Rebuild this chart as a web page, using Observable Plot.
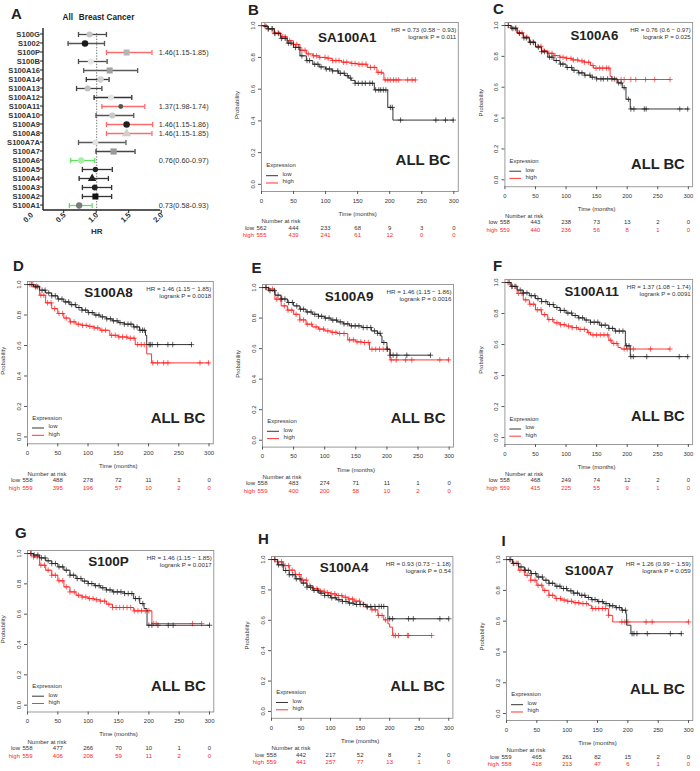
<!DOCTYPE html>
<html><head><meta charset="utf-8">
<script src="https://cdn.jsdelivr.net/npm/d3@7"></script>
<script src="https://cdn.jsdelivr.net/npm/@observablehq/plot@0.6"></script>
<style>
body{margin:0;background:#fff;}
#fig{position:relative;width:700px;height:771px;overflow:hidden;background:#fff;}
.panel{position:absolute;}
#letters{position:absolute;left:0;top:0;pointer-events:none;}
</style></head><body><div id="fig"></div>
<script>
const FONT = '"Liberation Sans", Arial, Helvetica, sans-serif';
const LOW = "#1f1f1f", HIGH = "#ff1f1f";

// ---------- Panel A: forest plot data ----------
const genes = ["S100G","S1002","S100P","S100B","S100A16","S100A14","S100A13","S100A12","S100A11","S100A10","S100A9","S100A8","S100A7A","S100A7","S100A6","S100A5","S100A4","S100A3","S100A2","S100A1"];
const hrEst = [0.89,0.82,1.46,0.91,1.20,1.06,0.86,1.22,1.37,1.24,1.46,1.46,0.98,1.26,0.76,0.98,0.93,0.97,0.98,0.73];
const hrLow = [0.72,0.56,1.15,0.72,0.80,0.84,0.69,0.96,1.08,0.99,1.15,1.15,0.72,0.99,0.60,0.78,0.73,0.78,0.78,0.58];
const hrHigh = [1.15,1.12,1.85,1.16,1.63,1.19,1.08,1.54,1.74,1.57,1.86,1.85,1.45,1.59,0.97,1.24,1.18,1.23,1.23,0.93];
const annotGenes = ["S100P","S100A11","S100A9","S100A8","S100A6","S100A1"];
const annotText = ["1.46(1.15-1.85)","1.37(1.98-1.74)","1.46(1.15-1.86)","1.46(1.15-1.85)","0.76(0.60-0.97)","0.73(0.58-0.93)"];
const hrTicks = [0, 0.5, 1.0, 1.5, 2.0];

// ---------- KM shared ticks ----------
const timeTicks = [0,50,100,150,200,250,300];
const probTicks = [0,0.2,0.4,0.6,0.8,1.0];

// ---------- B: SA100A1 ----------
const B_hr = ["HR = 0.73 (0.58 \u2212 0.93)", "logrank P = 0.011"];
const B_low = [[0,1],[5,0.995],[10,0.98],[20,0.95],[30,0.92],[40,0.89],[50,0.863],[60,0.81],[70,0.78],[80,0.757],[90,0.74],[100,0.727],[110,0.715],[120,0.70],[130,0.685],[136,0.67],[140,0.655],[146,0.637],[176,0.595],[197,0.485],[205,0.405],[300,0.405]];
const B_high = [[0,1],[10,0.98],[20,0.955],[30,0.93],[40,0.905],[50,0.882],[60,0.845],[70,0.822],[80,0.81],[90,0.80],[100,0.795],[110,0.78],[125,0.77],[140,0.762],[150,0.757],[165,0.737],[180,0.706],[188,0.70],[191,0.658],[240,0.658]];
const B_lowCens = [7,11,17,21,27,31,37,42,46,53,58,63,71,75,83,88,93,101,106,111,119,123,129,134,139,146,151,157,162,169,173,178,183,186,190,194,201,204,217,272,287,299];
const B_highCens = [5,10,16,20,26,33,37,44,50,55,63,68,73,81,86,91,99,104,111,116,121,128,133,141,146,152,157,163,170,176,182,187,193,197,201,206,210,214,228,235,240];
const B_riskLow = [562,444,233,68,9,3,0];
const B_riskHigh = [555,439,241,61,12,0,0];

// ---------- C: S100A6 ----------
const C_hr = ["HR = 0.76 (0.6 \u2212 0.97)", "logrank P = 0.025"];
const C_low = [[0,1],[10,0.98],[20,0.95],[30,0.92],[40,0.89],[50,0.86],[60,0.83],[70,0.795],[80,0.773],[90,0.75],[100,0.728],[110,0.71],[120,0.693],[130,0.678],[140,0.665],[150,0.654],[184,0.628],[192,0.597],[198,0.522],[205,0.459],[300,0.459]];
const C_high = [[0,1],[10,0.985],[20,0.953],[30,0.925],[40,0.894],[50,0.865],[60,0.837],[70,0.82],[80,0.805],[90,0.794],[100,0.787],[110,0.777],[120,0.77],[130,0.762],[140,0.741],[145,0.724],[172,0.671],[175,0.65],[270,0.65]];
const C_lowCens = [6,13,17,24,31,35,42,47,55,60,65,73,77,84,91,95,102,109,113,121,126,131,139,143,150,157,161,168,175,179,186,190,195,202,206,211,228,231,286,299];
const C_highCens = [5,11,18,23,28,36,41,46,54,59,64,72,77,82,90,95,101,108,112,119,126,130,137,144,149,155,160,166,170,182,190,195,206,214,230,245,270];
const C_riskLow = [558,443,238,73,13,2,0];
const C_riskHigh = [559,440,236,56,8,1,0];

// ---------- D: S100A8 ----------
const D_hr = ["HR = 1.46 (1.15 \u2212 1.85)", "logrank P = 0.0018"];
const D_low = [[0,1],[10,0.985],[20,0.963],[30,0.945],[40,0.926],[50,0.905],[60,0.886],[70,0.868],[80,0.849],[90,0.832],[100,0.816],[110,0.80],[120,0.788],[130,0.775],[140,0.762],[150,0.75],[160,0.74],[175,0.722],[185,0.70],[195,0.667],[197,0.606],[271,0.606]];
const D_high = [[0,1],[10,0.99],[20,0.93],[30,0.88],[40,0.842],[50,0.81],[60,0.78],[70,0.755],[80,0.74],[90,0.732],[100,0.726],[110,0.715],[120,0.70],[136,0.667],[150,0.656],[165,0.648],[178,0.606],[197,0.545],[205,0.486],[300,0.486]];
const D_lowCens = [7,13,17,24,29,35,40,46,51,57,63,68,73,79,85,90,96,101,107,113,118,124,131,137,142,148,153,160,166,171,176,181,186,190,193,201,203,206,215,232,240,271];
const D_highCens = [4,9,15,22,27,33,39,45,52,58,64,71,77,84,91,97,103,110,116,123,129,139,145,151,157,164,170,176,182,188,193,207,215,225,232,285,299];
const D_riskLow = [558,488,278,72,11,1,0];
const D_riskHigh = [559,395,196,57,10,2,0];

// ---------- E: S100A9 ----------
const E_hr = ["HR = 1.46 (1.15 \u2212 1.86)", "logrank P = 0.0016"];
const E_low = [[0,1],[10,0.98],[20,0.95],[30,0.925],[40,0.902],[50,0.88],[60,0.858],[70,0.84],[80,0.825],[90,0.812],[100,0.80],[110,0.787],[120,0.775],[130,0.762],[140,0.749],[160,0.738],[175,0.716],[185,0.70],[190,0.683],[192,0.64],[200,0.596],[205,0.557],[270,0.557]];
const E_high = [[0,1],[10,0.99],[20,0.924],[30,0.88],[40,0.852],[50,0.825],[60,0.788],[70,0.76],[80,0.742],[90,0.728],[100,0.716],[110,0.707],[120,0.699],[137,0.657],[150,0.644],[160,0.64],[172,0.596],[205,0.526],[300,0.526]];
const E_lowCens = [6,12,19,25,31,36,42,48,55,61,66,72,78,84,90,95,101,107,113,119,125,131,137,143,149,155,162,168,174,180,185,189,195,201,205,210,216,232,270];
const E_highCens = [5,10,16,23,29,35,41,47,54,60,66,72,79,86,92,98,105,112,118,124,131,140,146,152,158,164,170,176,182,188,194,200,207,215,230,240,285,299];
const E_riskLow = [558,483,274,71,11,1,0];
const E_riskHigh = [559,400,200,58,10,2,0];

// ---------- F: S100A11 ----------
const F_hr = ["HR = 1.37 (1.08 \u2212 1.74)", "logrank P = 0.0091"];
const F_low = [[0,1],[10,0.975],[20,0.951],[30,0.933],[40,0.915],[50,0.896],[60,0.877],[70,0.858],[80,0.839],[90,0.82],[100,0.803],[110,0.787],[120,0.772],[130,0.758],[140,0.744],[155,0.725],[170,0.704],[180,0.687],[197,0.592],[205,0.522],[300,0.522]];
const F_high = [[0,1],[10,0.975],[20,0.93],[30,0.888],[40,0.86],[50,0.824],[60,0.793],[70,0.761],[80,0.74],[90,0.728],[100,0.719],[110,0.709],[120,0.698],[135,0.677],[140,0.662],[170,0.628],[175,0.607],[185,0.581],[190,0.571],[270,0.571]];
const F_lowCens = [7,12,18,25,30,36,43,49,54,60,67,73,79,85,91,97,103,109,115,121,127,133,140,146,152,158,164,170,176,181,187,193,199,203,206,210,232,285,299];
const F_highCens = [5,11,16,22,28,34,41,47,53,59,65,72,78,85,91,97,104,110,117,123,130,137,144,150,156,162,168,173,178,183,195,200,210,238,270];
const F_riskLow = [558,468,249,74,12,2,0];
const F_riskHigh = [559,415,225,55,9,1,0];

// ---------- G: S100P ----------
const G_hr = ["HR = 1.46 (1.15 \u2212 1.85)", "logrank P = 0.0017"];
const G_low = [[0,1],[10,0.99],[20,0.971],[30,0.952],[40,0.934],[50,0.912],[60,0.89],[70,0.857],[80,0.835],[90,0.818],[100,0.802],[110,0.788],[120,0.774],[130,0.76],[140,0.747],[160,0.736],[175,0.703],[185,0.67],[192,0.637],[197,0.527],[300,0.527]];
const G_high = [[0,1],[10,0.978],[20,0.923],[30,0.89],[40,0.857],[50,0.82],[60,0.78],[70,0.747],[80,0.725],[90,0.713],[100,0.703],[110,0.695],[120,0.686],[130,0.666],[140,0.644],[175,0.622],[205,0.538],[287,0.538]];
const G_lowCens = [6,11,17,23,29,34,40,46,52,58,64,70,76,82,88,94,100,106,112,118,124,130,136,142,148,154,160,166,172,178,184,190,200,205,215,232,240,300];
const G_highCens = [5,10,16,22,28,34,40,46,52,58,64,70,77,84,90,96,102,108,114,120,127,134,140,146,152,158,164,170,176,182,188,194,200,208,212,272,287];
const G_riskLow = [558,477,266,70,10,1,0];
const G_riskHigh = [559,406,208,59,11,2,0];

// ---------- H: S100A4 ----------
const H_hr = ["HR = 0.93 (0.73 \u2212 1.18)", "logrank P = 0.54"];
const H_low = [[0,1],[10,0.965],[20,0.928],[30,0.9],[40,0.873],[50,0.845],[60,0.818],[70,0.797],[80,0.779],[90,0.763],[100,0.748],[110,0.735],[120,0.724],[130,0.713],[140,0.704],[160,0.691],[197,0.61],[300,0.61]];
const H_high = [[0,1],[10,0.985],[20,0.96],[30,0.93],[40,0.901],[50,0.865],[60,0.829],[70,0.808],[80,0.792],[90,0.782],[100,0.774],[110,0.763],[120,0.752],[130,0.74],[140,0.726],[150,0.705],[160,0.686],[170,0.669],[180,0.632],[190,0.603],[197,0.577],[200,0.555],[205,0.50],[271,0.50]];
const H_lowCens = [6,12,18,24,30,36,42,48,54,60,66,72,78,84,90,96,102,108,114,120,126,132,138,144,150,156,162,168,175,182,186,190,200,205,232,240,285,300];
const H_highCens = [5,11,17,23,29,35,41,47,53,59,65,71,77,83,89,95,101,107,113,119,125,131,137,143,149,155,162,170,176,181,187,193,207,210,215,230,232,271];
const H_riskLow = [558,442,217,52,8,2,0];
const H_riskHigh = [559,441,257,77,13,1,0];

// ---------- I: S100A7 ----------
const I_hr = ["HR = 1.26 (0.99 \u2212 1.59)", "logrank P = 0.059"];
const I_low = [[0,1],[10,0.975],[20,0.952],[30,0.93],[40,0.909],[50,0.887],[60,0.866],[70,0.846],[80,0.827],[90,0.812],[100,0.797],[110,0.782],[120,0.768],[130,0.754],[140,0.74],[150,0.727],[160,0.714],[170,0.70],[180,0.688],[190,0.671],[197,0.645],[198,0.574],[205,0.519],[289,0.519]];
const I_high = [[0,1],[10,0.975],[20,0.931],[30,0.898],[40,0.866],[50,0.833],[60,0.80],[70,0.768],[80,0.747],[90,0.737],[100,0.729],[110,0.72],[120,0.714],[135,0.703],[140,0.682],[168,0.638],[175,0.595],[300,0.595]];
const I_lowCens = [7,12,19,24,31,36,41,48,53,59,65,70,76,83,88,94,99,106,111,117,124,129,135,141,146,152,158,164,170,175,181,186,191,196,207,210,215,232,270,288];
const I_highCens = [5,11,16,22,29,34,40,47,52,58,63,70,76,82,89,95,101,107,113,119,126,132,142,147,152,158,163,168,190,195,200,230,240,300];
const I_riskLow = [559,465,261,82,15,2,0];
const I_riskHigh = [558,418,213,47,6,1,0];

// ---------- layout (page px boxes) ----------
const panels = [
  {title:"SA100A1", box:[261,457.8,21.8,190.8], tdx:85.7, tdy:10, ady:-26, hr:B_hr, low:B_low, high:B_high, lc:B_lowCens, hc:B_highCens, rl:B_riskLow, rh:B_riskHigh},
  {title:"S100A6", box:[505,696,21.9,189.1], tdx:91, tdy:8, ady:-18, hr:C_hr, low:C_low, high:C_high, lc:C_lowCens, hc:C_highCens, rl:C_riskLow, rh:C_riskHigh},
  {title:"S100A8", box:[26.7,212.5,281.3,443.6], tdx:81, tdy:6, ady:-21, hr:D_hr, low:D_low, high:D_high, lc:D_lowCens, hc:D_highCens, rl:D_riskLow, rh:D_riskHigh},
  {title:"S100A9", box:[262.3,453.3,283.6,446.2], tdx:86.7, tdy:6.5, ady:-24, hr:E_hr, low:E_low, high:E_high, lc:E_lowCens, hc:E_highCens, rl:E_riskLow, rh:E_riskHigh},
  {title:"S100A11", box:[505,696,279.1,447.1], tdx:88.3, tdy:7.6, ady:-24, hr:F_hr, low:F_low, high:F_high, lc:F_lowCens, hc:F_highCens, rl:F_riskLow, rh:F_riskHigh},
  {title:"S100P", box:[27.3,213.6,550.3,711.8], tdx:81, tdy:5.5, ady:-21, hr:G_hr, low:G_low, high:G_high, lc:G_lowCens, hc:G_highCens, rl:G_riskLow, rh:G_riskHigh},
  {title:"S100A4", box:[270.7,452.1,556,717.8], tdx:72.6, tdy:5.5, ady:-27, hr:H_hr, low:H_low, high:H_high, lc:H_lowCens, hc:H_highCens, rl:H_riskLow, rh:H_riskHigh},
  {title:"S100A7", box:[505.7,692,556.2,720.2], tdx:82.6, tdy:8.5, ady:-26, hr:I_hr, low:I_low, high:I_high, lc:I_lowCens, hc:I_highCens, rl:I_riskLow, rh:I_riskHigh}
];
const letters = [["A",11,18.5],["B",248,14.5],["C",493,14],["D",13,270.5],["E",251.5,272.5],["F",493,270.5],["G",15,537.5],["H",258,544],["I",501.5,545.5]];

const fig = document.getElementById("fig");
function place(node, left, top) {
  const d = document.createElement("div");
  d.className = "panel"; d.style.left = left + "px"; d.style.top = top + "px";
  d.appendChild(node); fig.appendChild(d);
}
function stepAt(curve, t) {
  let v = curve[0][1];
  for (const [ct, cs] of curve) { if (ct <= t) v = cs; else break; }
  return v;
}

// ---------- Forest plot ----------
(function(){
  const rows = genes.map((g, i) => ({gene: g, hr: hrEst[i], lo: hrLow[i], hi: hrHigh[i]}));
  const red = new Set(["S100P","S100A11","S100A9","S100A8"]);
  const green = new Set(["S100A6","S100A1"]);
  const barStyle = {S100G:"#4a4a4a",S1002:"#555",S100B:"#4a4a4a",S100A16:"#5a5a5a",S100A14:"#333",S100A13:"#444",S100A12:"#333",S100A10:"#555",S100A7A:"#5a5a5a",S100A7:"#444",S100A5:"#333",S100A4:"#333",S100A3:"#333",S100A2:"#333"};
  const barColor = d => red.has(d.gene) ? "#ff6b6b" : green.has(d.gene) ? "#5ee35e" : barStyle[d.gene];
  const mk = {
    S100G:["circle","#c4c4c4",2.4], S1002:["circle","#1a1a1a",2.8], S100P:["square","#b5b5b5",3], S100B:["circle","#e6e6e6",2.4],
    S100A16:["square","#a0a0a0",3], S100A14:["circle","#d0d0d0",2.6], S100A13:["circle","#c0c0c0",2.4], S100A12:["circle","#e4e4e4",2.2],
    S100A11:["circle","#555",1.6], S100A10:["circle","#c8c8c8",2.4], S100A9:["circle","#222",2.8], S100A8:["triangle","#cfcfcf",3],
    S100A7A:["circle","#e4e4e4",2.2], S100A7:["square","#9a9a9a",3.2], S100A6:["circle","#a8eea8",2.6], S100A5:["circle","#222",1.8],
    S100A4:["triangle","#222",2.6], S100A3:["circle","#222",2.2], S100A2:["square","#111",3], S100A1:["circle","#7a7a7a",2.6]
  };
  const vbar = {draw(ctx, size){ const r = Math.sqrt(size/Math.PI); ctx.moveTo(0,-r); ctx.lineTo(0,r); }};
  const annot = annotGenes.map((g,i) => ({gene:g, label:annotText[i]}));
  const bold = {fontWeight:"bold", fill:"#333"};
  const p = Plot.plot({
    width: 232, height: 250, marginLeft: 31.2, marginRight: 70.8, marginTop: 33, marginBottom: 40,
    x: {domain: [0, 2], axis: null},
    y: {type: "point", domain: genes, range: [33, 205], padding: 0, axis: null},
    style: {fontFamily: FONT, background: "transparent", color: "#222", overflow: "visible"},
    marks: [
      Plot.ruleX([1], {stroke: "#777", strokeDasharray: "1.4,1.4", strokeWidth: 1}),
      Plot.ruleY(rows, {y: "gene", x1: "lo", x2: "hi", stroke: barColor, strokeWidth: 1.3}),
      Plot.dot(rows, {x: "lo", y: "gene", symbol: vbar, r: 2.6, stroke: barColor, strokeWidth: 1.3}),
      Plot.dot(rows, {x: "hi", y: "gene", symbol: vbar, r: 2.6, stroke: barColor, strokeWidth: 1.3}),
      Plot.dot(rows, {x: "hr", y: "gene", symbol: d => mk[d.gene][0], fill: d => mk[d.gene][1], r: d => mk[d.gene][2], stroke: "none"}),
      Plot.text(genes, {y: d => d, text: d => d, frameAnchor: "left", dx: 8.3, textAnchor: "end", fontSize: 7.6, ...bold}),
      Plot.text(annot, {y: "gene", text: "label", frameAnchor: "right", dx: -3, textAnchor: "start", fontSize: 7.3, fill: "#333"}),
      Plot.text(hrTicks, {x: d => d, text: d => d.toFixed(1), frameAnchor: "bottom", rotate: -45, textAnchor: "end", dx: 2, dy: 5, fontSize: 7.6, ...bold}),
      Plot.text(["HR"], {frameAnchor: "bottom", dy: 23, fontSize: 8, ...bold}),
      Plot.text(["All"], {frameAnchor: "top-left", dx: 62 - 31.2, dy: -19, textAnchor: "start", fontSize: 8.2, fontWeight: "bold", fill: "#222"}),
      Plot.text(["Breast Cancer"], {frameAnchor: "top-left", dx: 78.3 - 31.2, dy: -19, textAnchor: "start", fontSize: 8.2, fontWeight: "bold", fill: "#222"})
    ]
  });
  const sx = p.scale("x"), sy = p.scale("y");
  const s = d3.select(p);
  const axX = 43, axY = 210;
  s.append("line").attr("x1", axX).attr("x2", axX).attr("y1", 28).attr("y2", axY).attr("stroke", "#222").attr("stroke-width", 1.4);
  s.append("line").attr("x1", axX).attr("x2", sx.apply(2) - 1).attr("y1", axY).attr("y2", axY).attr("stroke", "#222").attr("stroke-width", 1.4);
  genes.forEach(g => s.append("line").attr("x1", axX - 3).attr("x2", axX).attr("y1", sy.apply(g)).attr("y2", sy.apply(g)).attr("stroke", "#222").attr("stroke-width", 1));
  hrTicks.filter(v => v > 0.2).forEach(v => s.append("line").attr("x1", sx.apply(v)).attr("x2", sx.apply(v)).attr("y1", axY).attr("y2", axY + 3).attr("stroke", "#222").attr("stroke-width", 1));
  place(p, 0, 0);
})();

// ---------- KM panels ----------
function kmPanel(p) {
  const [L, R, T, B] = p.box;
  const mL = 34, mR = 8, mT = 4, mB = 54;
  const lowPts = p.low.map(([t, s]) => ({t, s}));
  const highPts = p.high.map(([t, s]) => ({t, s}));
  const lowC = p.lc.map(t => ({t, s: stepAt(p.low, t)}));
  const highC = p.hc.map(t => ({t, s: stepAt(p.high, t)}));
  const fs = 6;
  const TXT = "#333";
  const plot = Plot.plot({
    width: R - L + mL + mR, height: B - T + mT + mB,
    marginLeft: mL, marginRight: mR, marginTop: mT, marginBottom: mB,
    x: {domain: [0, 307]}, y: {domain: [-0.045, 1.02]},
    style: {fontFamily: FONT, fontSize: "6px", color: "#555", background: "transparent", overflow: "visible"},
    marks: [
      Plot.frame({stroke: "#8f8f8f", strokeWidth: 0.9}),
      Plot.axisX({ticks: timeTicks, tickSize: 3, tickPadding: 4, label: null, fontSize: fs, fill: TXT}),
      Plot.axisY({ticks: probTicks, tickSize: 3, tickFormat: () => "", label: null}),
      Plot.text(probTicks, {y: d => d, text: d => d.toFixed(1), frameAnchor: "left", dx: -8.5, rotate: -90, textAnchor: "middle", fontSize: fs, fill: TXT}),
      Plot.text([{y: 0.5, label: "Probability"}], {y: "y", text: "label", frameAnchor: "left", dx: -24, rotate: -90, textAnchor: "middle", fontSize: fs, fill: TXT}),
      Plot.line(highPts, {x: "t", y: "s", curve: "step-after", stroke: HIGH, strokeWidth: 0.9}),
      Plot.dot(highC, {x: "t", y: "s", symbol: "plus", r: 1.9, stroke: HIGH, strokeWidth: 0.7}),
      Plot.line(lowPts, {x: "t", y: "s", curve: "step-after", stroke: LOW, strokeWidth: 0.9}),
      Plot.dot(lowC, {x: "t", y: "s", symbol: "plus", r: 1.9, stroke: LOW, strokeWidth: 0.7}),
      Plot.text([p.title], {frameAnchor: "top-left", dx: p.tdx, dy: p.tdy, textAnchor: "middle", fontWeight: "bold", fontSize: 13.5, fill: "#222"}),
      Plot.text([p.hr[0]], {frameAnchor: "top-right", dx: -2, dy: 5, textAnchor: "end", fontSize: 6.2, fill: TXT}),
      Plot.text([p.hr[1]], {frameAnchor: "top-right", dx: -2, dy: 12, textAnchor: "end", fontSize: 6.2, fill: TXT}),
      Plot.text(["ALL BC"], {frameAnchor: "bottom-right", dx: -8, dy: p.ady, textAnchor: "end", fontWeight: "bold", fontSize: 15, fill: "#222"}),
      Plot.text(["Expression"], {frameAnchor: "bottom-left", dx: 4.7, dy: -24, textAnchor: "start", fontSize: fs, fill: TXT}),
      Plot.text(["low"], {frameAnchor: "bottom-left", dx: 21, dy: -15.3, textAnchor: "start", fontSize: fs, fill: TXT}),
      Plot.text(["high"], {frameAnchor: "bottom-left", dx: 21, dy: -8, textAnchor: "start", fontSize: fs, fill: TXT}),
      Plot.text([{t: 150, label: "Time (months)"}], {x: "t", text: "label", frameAnchor: "bottom", dy: 24.5, fontSize: fs, fill: TXT}),
      Plot.text([{t: 0, label: "Number at risk"}], {x: "t", text: "label", frameAnchor: "bottom", dy: 31.8, textAnchor: "start", fontSize: fs, fill: TXT}),
      Plot.text([{t: 0, label: "low"}], {x: "t", text: "label", frameAnchor: "bottom", dx: -7.5, dy: 38.3, textAnchor: "end", fontSize: fs, fill: TXT}),
      Plot.text([{t: 0, label: "high"}], {x: "t", text: "label", frameAnchor: "bottom", dx: -7.5, dy: 45.8, textAnchor: "end", fontSize: fs, fill: HIGH}),
      Plot.text(timeTicks, {x: d => d, text: (d, i) => String(p.rl[i]), frameAnchor: "bottom", dy: 38.3, fontSize: fs, fill: TXT}),
      Plot.text(timeTicks, {x: d => d, text: (d, i) => String(p.rh[i]), frameAnchor: "bottom", dy: 45.8, fontSize: fs, fill: HIGH})
    ]
  });
  const s = d3.select(plot);
  const bx = mL, by = mT + (B - T);
  s.append("line").attr("x1", bx + 5).attr("x2", bx + 17).attr("y1", by - 15.3).attr("y2", by - 15.3).attr("stroke", LOW).attr("stroke-width", 0.9);
  s.append("line").attr("x1", bx + 5).attr("x2", bx + 17).attr("y1", by - 8).attr("y2", by - 8).attr("stroke", HIGH).attr("stroke-width", 0.9);
  place(plot, L - mL, T - mT);
}
panels.forEach(kmPanel);

// ---------- panel letters ----------
const ls = d3.select(fig).append("svg").attr("id", "letters").attr("width", 700).attr("height", 771);
letters.forEach(([t, x, y]) => ls.append("text").attr("x", x).attr("y", y).text(t)
  .attr("font-family", FONT).attr("font-weight", "bold").attr("font-size", 15).attr("fill", "#222"));
</script></body></html>
